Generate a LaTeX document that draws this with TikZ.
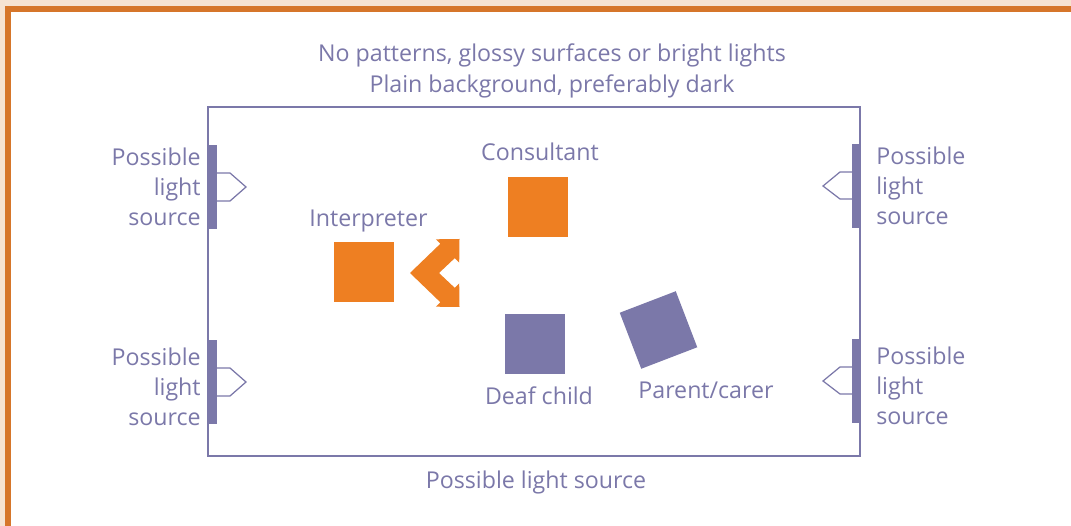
\documentclass[tikz,border=0pt]{standalone}
\usepackage{fontspec}
\setmainfont{Open Sans}
\usepackage{xcolor}
\usepackage{tikz}
\usetikzlibrary{positioning}

\definecolor{plum}{HTML}{7B78A9}
\definecolor{tangerine}{HTML}{EE7F22}
\definecolor{rust}{HTML}{D6762A}
\definecolor{cream}{HTML}{F6E3D2}

\tikzset{
    lbl/.style={text=plum, font=\fontsize{13.2}{17.3}\selectfont, inner sep=0pt, anchor=base},
    lamp/.style={draw=plum, fill=white, line width=0.7pt, line join=miter}
}

\begin{document}
\begin{tikzpicture}[x=0.02cm, y=-0.02cm]
    \useasboundingbox (0,0) rectangle (1071,526);
    % Frame
    \fill[cream] (0,0) rectangle (1071,526);
    \fill[rust] (5,6) rectangle (1071,526);
    \fill[white] (11,12) rectangle (1071,526);

    % Room
    \draw[plum, line width=0.8pt] (208,107) rectangle (860,456);

    % Light sources, left wall
    \draw[lamp] (217,173) -- (230,173) -- (246,187) -- (230,201) -- (217,201);
    \fill[plum] (208,145) rectangle (217,229);
    \draw[lamp] (217,368) -- (230,368) -- (246,382) -- (230,396) -- (217,396);
    \fill[plum] (208,340) rectangle (217,424);
    % Light sources, right wall
    \draw[lamp] (852,172) -- (840,172) -- (823,186) -- (840,199) -- (852,199);
    \fill[plum] (852,144) rectangle (861,228);
    \draw[lamp] (852,367) -- (840,367) -- (823,381) -- (840,394) -- (852,394);
    \fill[plum] (852,339) rectangle (861,423);

    % People
    \fill[tangerine] (508,177) rectangle (568,237); % Consultant
    \fill[tangerine] (334,242) rectangle (394,302); % Interpreter
    \fill[plum] (505,314) rectangle (565,374); % Deaf child
    \fill[plum, rotate around={21:(658.5,330)}] (628.5,300) rectangle (688.5,360); % Parent/carer

    % Interpreter looking both ways
    \fill[tangerine] (410,273) -- (440.3,243.8) -- (435.8,239.3) -- (459.5,239)
        -- (459.2,262.7) -- (454.7,258.2) -- (439,273) -- (454.7,287.8)
        -- (459.2,283.3) -- (459.5,307) -- (435.8,306.7) -- (440.3,302.2) -- cycle;

    % Labels (multi-line ones sit on their last baseline)
    \node[lbl, align=center] (advice) at (552,92.3) {No patterns, glossy surfaces or bright lights\\Plain background, preferably dark};
    \node[lbl] (consultant) at (540,160.7) {Consultant};
    \node[lbl] (interpreter) at (368.5,226.7) {Interpreter};
    \node[lbl] (child) at (539,405) {Deaf child};
    \node[lbl] (carer) at (706,398.3) {Parent/carer};
    \node[lbl] (lightS) at (536,488.3) {Possible light source};
    \node[lbl, align=right, anchor=base east] (lightNW) at (201,226) {Possible\\light\\source};
    \node[lbl, align=right, anchor=base east] (lightSW) at (201,426) {Possible\\light\\source};
    \node[lbl, align=left, anchor=base west] (lightNE) at (876,225) {Possible\\light\\source};
    \node[lbl, align=left, anchor=base west] (lightSE) at (876,425) {Possible\\light\\source};
\end{tikzpicture}
\end{document}
